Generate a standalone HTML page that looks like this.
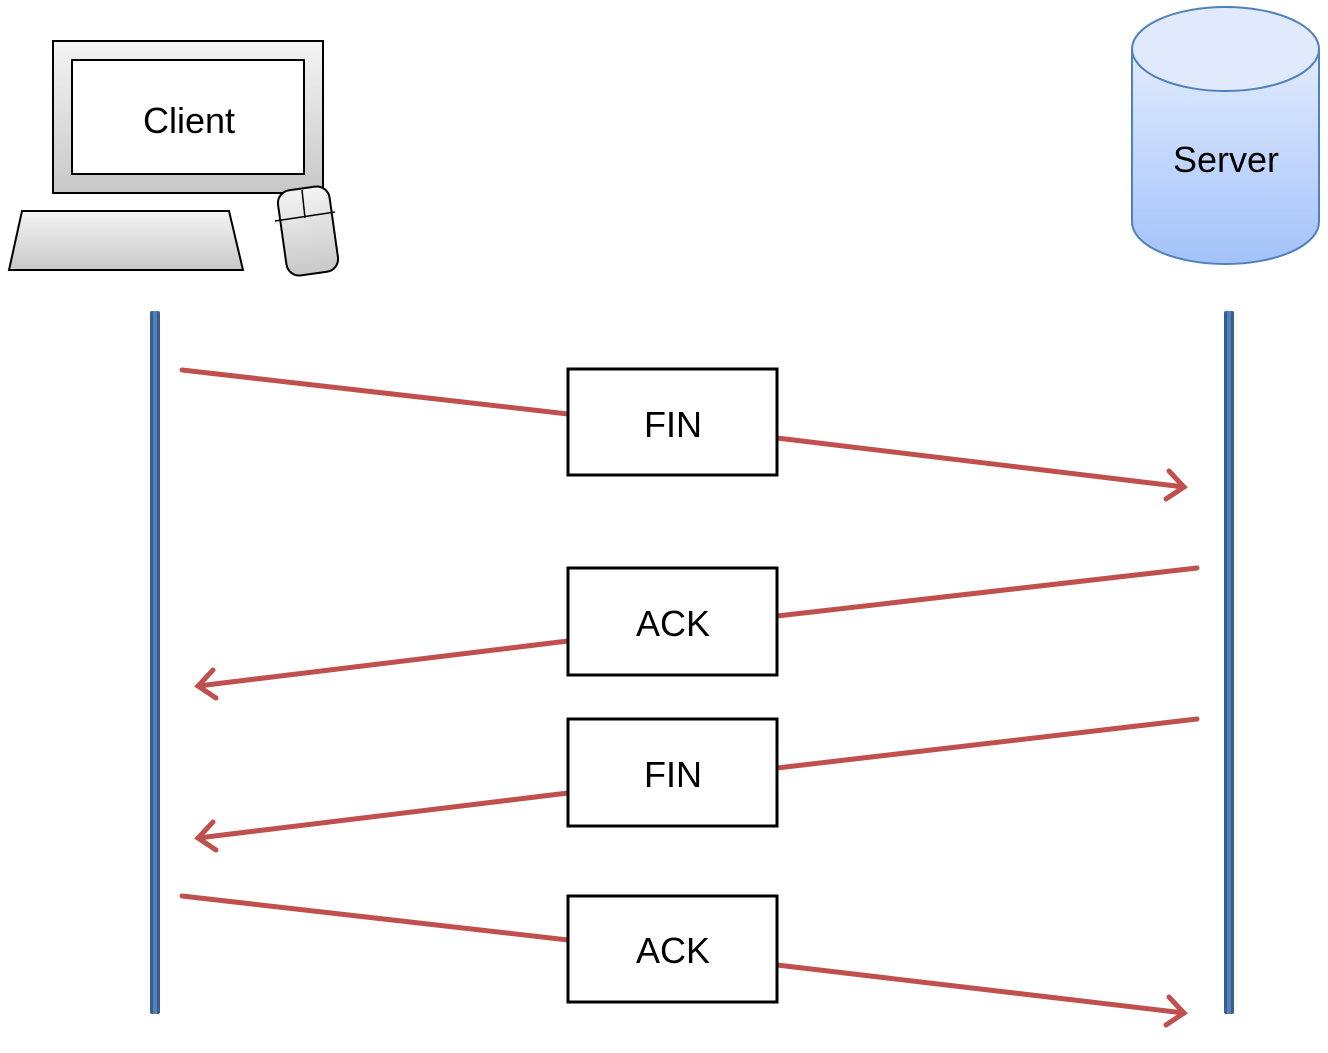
<!DOCTYPE html>
<html><head><style>html,body{margin:0;padding:0;background:#fff}svg{display:block}</style></head>
<body>
<svg width="1328" height="1053" viewBox="0 0 1328 1053" xmlns="http://www.w3.org/2000/svg">
<defs>
<linearGradient id="g" x1="0" y1="0" x2="0" y2="1"><stop offset="0" stop-color="#f4f4f4"/><stop offset="1" stop-color="#c8c8c8"/></linearGradient>
<linearGradient id="b" x1="0" y1="0" x2="0" y2="1"><stop offset="0" stop-color="#e2ecfd"/><stop offset="1" stop-color="#a3c2fb"/></linearGradient>
</defs>
<!-- client -->
<rect x="53" y="41" width="270" height="152" fill="url(#g)" stroke="#000" stroke-width="2"/>
<rect x="72" y="60" width="232" height="114" fill="#fff" stroke="#000" stroke-width="2"/>
<text x="189" y="133" font-family="Liberation Sans, sans-serif" font-size="36" text-anchor="middle">Client</text>
<polygon points="22,211 229,211 243,270 9,270" fill="url(#g)" stroke="#000" stroke-width="2"/>
<g transform="rotate(-8 308 231)"><rect x="282" y="188" width="52" height="86" rx="13" fill="url(#g)" stroke="#000" stroke-width="2"/></g>
<line x1="275" y1="221" x2="335" y2="212" stroke="#000" stroke-width="1.5"/>
<line x1="302" y1="190" x2="305" y2="218" stroke="#000" stroke-width="1.5"/>
<!-- server -->
<path d="M1132,49 L1132,222 A93.5,42 0 0 0 1319,222 L1319,49" fill="url(#b)" stroke="#4f81bd" stroke-width="2"/>
<ellipse cx="1225.5" cy="49" rx="93.5" ry="42" fill="#e0eafc" stroke="#4f81bd" stroke-width="2"/>
<text x="1226" y="172" font-family="Liberation Sans, sans-serif" font-size="36" text-anchor="middle">Server</text>
<!-- lifelines -->
<rect x="150" y="311" width="10" height="703" rx="2" fill="#3a5f8f"/><rect x="153" y="311" width="4" height="703" fill="#4f81bd"/>
<rect x="1224" y="311" width="10" height="703" rx="2" fill="#3a5f8f"/><rect x="1227" y="311" width="4" height="703" fill="#4f81bd"/>
<g stroke="#c0504d" stroke-width="5" fill="none" stroke-linecap="round" stroke-linejoin="miter">
<line x1="182" y1="370" x2="568" y2="414"/><line x1="777" y1="438" x2="1184" y2="487"/>
<polyline points="1169,471 1184,487 1166,499"/>
<line x1="1197" y1="568" x2="777" y2="616"/><line x1="568" y1="641" x2="198" y2="686"/>
<polyline points="216,698 198,686 213,670"/>
<line x1="1197" y1="719" x2="777" y2="768"/><line x1="568" y1="793" x2="198" y2="838"/>
<polyline points="216,850 198,838 213,822"/>
<line x1="182" y1="896" x2="568" y2="940"/><line x1="777" y1="965" x2="1184" y2="1013"/>
<polyline points="1169,997 1184,1013 1166,1025"/>
</g>
<g fill="#fff" stroke="#000" stroke-width="3">
<rect x="568" y="369" width="209" height="106"/><rect x="568" y="568" width="209" height="107"/>
<rect x="568" y="719" width="209" height="107"/><rect x="568" y="896" width="209" height="106"/>
</g>
<g font-family="Liberation Sans, sans-serif" font-size="36" text-anchor="middle">
<text x="673" y="437">FIN</text><text x="673" y="636">ACK</text><text x="673" y="787">FIN</text><text x="673" y="963">ACK</text>
</g>
</svg>
</body></html>
